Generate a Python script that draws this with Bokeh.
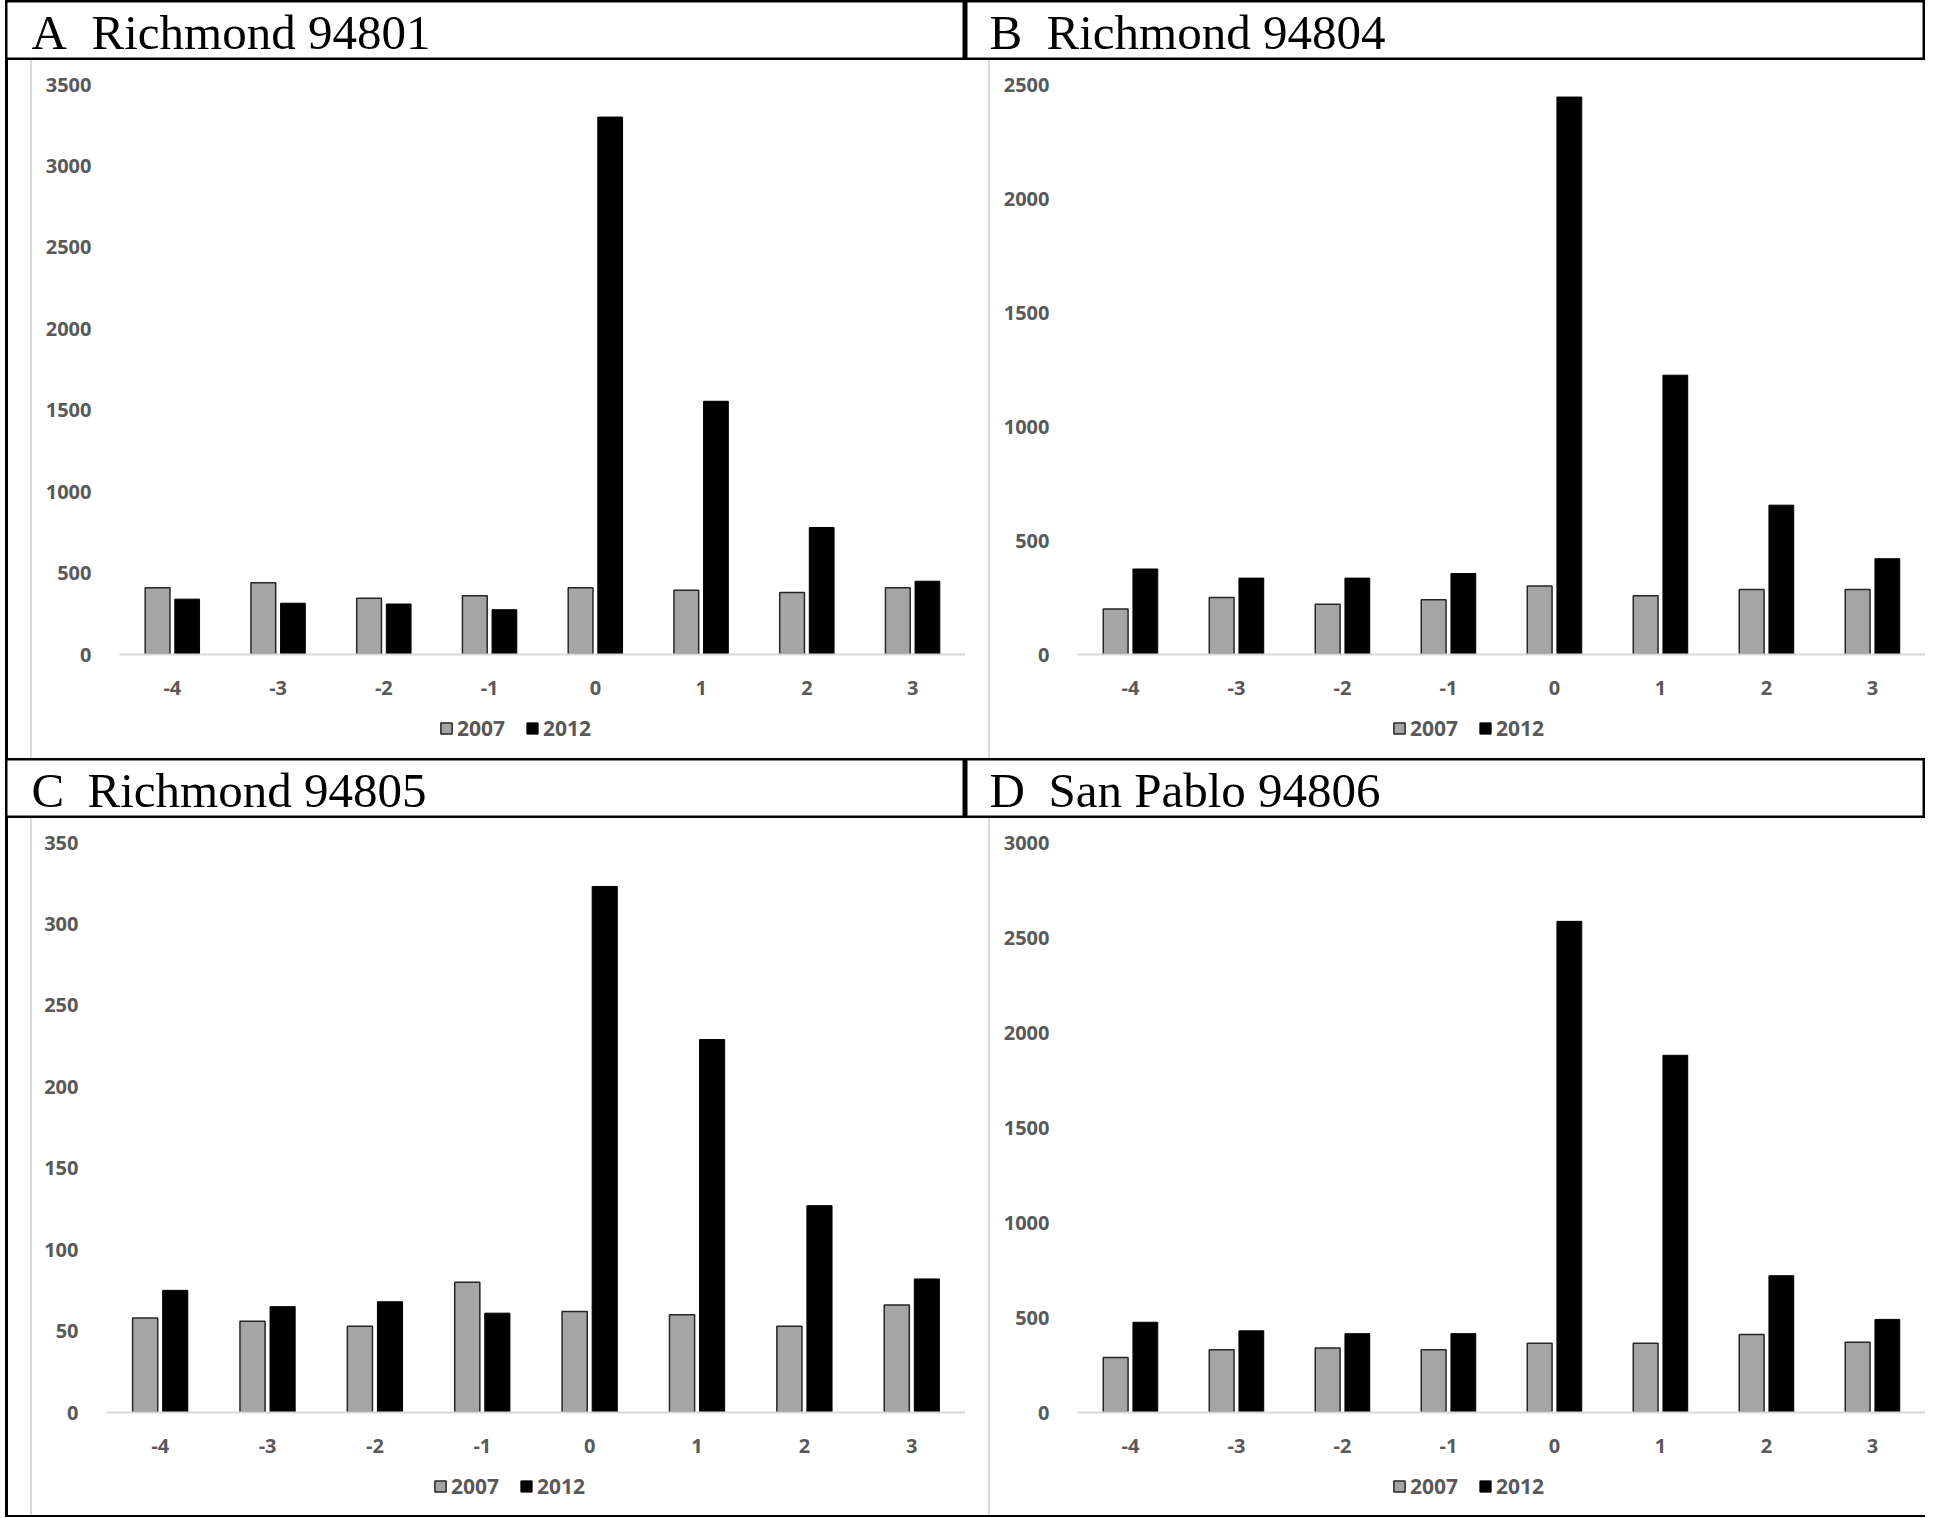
from bokeh.plotting import figure
from bokeh.models import (FactorRange, Range1d, FixedTicker, Legend, LegendItem,
                          Spacer, ColumnDataSource)
from bokeh.layouts import row, column
from bokeh.transform import dodge
from bokeh.core.properties import value
from bokeh.embed import file_html
from bokeh.resources import INLINE

# ---------------- data ----------------
categories = ["-4", "-3", "-2", "-1", "0", "1", "2", "3"]
series_names = ["2007", "2012"]

panel_letters = ["A", "B", "C", "D"]
panel_names = ["Richmond 94801", "Richmond 94804", "Richmond 94805", "San Pablo 94806"]

a_2007 = [410, 440, 345, 360, 410, 395, 380, 410]
a_2012 = [340, 315, 310, 275, 3300, 1555, 780, 450]

b_2007 = [200, 250, 220, 240, 300, 258, 285, 285]
b_2012 = [375, 335, 335, 355, 2445, 1225, 655, 420]

c_2007 = [58, 56, 53, 80, 62, 60, 53, 66]
c_2012 = [75, 65, 68, 61, 323, 229, 127, 82]

d_2007 = [290, 330, 340, 330, 365, 365, 410, 370]
d_2012 = [475, 430, 415, 415, 2585, 1880, 720, 490]

a_ticks = [0, 500, 1000, 1500, 2000, 2500, 3000, 3500]
b_ticks = [0, 500, 1000, 1500, 2000, 2500]
c_ticks = [0, 50, 100, 150, 200, 250, 300, 350]
d_ticks = [0, 500, 1000, 1500, 2000, 2500, 3000]

# ---------------- styles ----------------
GRAY = "#a5a5a5"
GRAY_EDGE = "#262626"
LABEL = "#595959"
AXIS = "#d9d9d9"
TICK_FONT = "Open Sans"
TITLE_FONT = "Liberation Serif"
BAR_W = 0.234
OFF = 0.14


def title_fig(letter, name, width, lx, nx):
    t = figure(width=width, height=60, x_range=Range1d(0, width), y_range=Range1d(0, 60),
               output_backend="svg", toolbar_location=None, min_border=0,
               x_axis_location=None, y_axis_location=None)
    t.grid.visible = False
    t.outline_line_color = "black"
    t.outline_line_width = 4
    for x, s in ((lx, letter), (nx, name)):
        t.text(x=[x], y=[28], text=[s], text_font=value(TITLE_FONT),
               text_font_size="49px", text_baseline="middle", text_color="black")
    return t


def add_bars(p, src):
    r1 = p.vbar(x=dodge("cat", -OFF, range=p.x_range), top="v07", width=BAR_W,
                source=src, fill_color=GRAY, line_color=GRAY_EDGE, line_width=1.5)
    r2 = p.vbar(x=dodge("cat", OFF, range=p.x_range), top="v12", width=BAR_W,
                source=src, fill_color="black", line_color="black", line_width=1)
    return r1, r2


def chart(src, ticks, width, height, left, top, bottom):
    p = figure(x_range=FactorRange(*categories, range_padding=0),
               y_range=Range1d(0, ticks[-1]),
               width=width, height=height, output_backend="svg", toolbar_location=None,
               min_border_left=left, min_border_right=0, min_border_top=top,
               min_border_bottom=bottom)
    p.outline_line_color = None
    p.xgrid.visible = False
    p.ygrid.visible = False
    add_bars(p, src)

    p.yaxis.ticker = FixedTicker(ticks=ticks)
    p.yaxis.axis_line_color = None
    p.yaxis.major_tick_line_color = None
    p.yaxis.minor_tick_line_color = None
    p.yaxis.major_label_standoff = 22

    p.xaxis.axis_line_color = AXIS
    p.xaxis.axis_line_width = 2
    p.xaxis.major_tick_line_color = None
    p.xaxis.minor_tick_line_color = None
    p.xaxis.major_label_standoff = 20

    for ax in (p.xaxis[0], p.yaxis[0]):
        ax.major_label_text_font = TICK_FONT
        ax.major_label_text_font_style = "bold"
        ax.major_label_text_font_size = "20px"
        ax.major_label_text_color = LABEL
    return p


def legend_fig(src, width, height, left, leg_x, leg_y):
    # holds the legend only; its bar renderers are hidden (the chart above draws the bars)
    lf = figure(width=width, height=height, x_range=FactorRange(*categories, range_padding=0),
                y_range=Range1d(0, 1), output_backend="svg", toolbar_location=None,
                min_border=0, min_border_left=left,
                x_axis_location=None, y_axis_location=None)
    lf.grid.visible = False
    lf.outline_line_color = None
    r1, r2 = add_bars(lf, src)
    r1.visible = False
    r2.visible = False
    legend = Legend(items=[LegendItem(label=series_names[0], renderers=[r1]),
                           LegendItem(label=series_names[1], renderers=[r2])],
                    orientation="horizontal", location=(leg_x, leg_y),
                    border_line_color=None, background_fill_alpha=0,
                    inactive_fill_alpha=0,
                    label_text_font=TICK_FONT, label_text_font_style="bold",
                    label_text_font_size="21px", label_text_color=LABEL,
                    glyph_width=14, glyph_height=14, spacing=20, margin=0, padding=0,
                    label_standoff=4)
    lf.add_layout(legend, "center")
    return lf


def bar_spacer(w, h, color):
    return Spacer(width=w, height=h, styles={"background-color": color})


def source(v07, v12):
    return ColumnDataSource(dict(cat=categories, v07=v07, v12=v12))


CH, LH1, LH2 = 642, 56, 55
H1, H2 = CH + LH1, CH + LH2

sA, sB = source(a_2007, a_2012), source(b_2007, b_2012)
sC, sD = source(c_2007, c_2012), source(d_2007, d_2012)

tA = title_fig(panel_letters[0], panel_names[0], 960, 26, 86)
tB = title_fig(panel_letters[1], panel_names[1], 960, 24, 81)
tC = title_fig(panel_letters[2], panel_names[2], 960, 26, 82)
tD = title_fig(panel_letters[3], panel_names[3], 960, 24, 83)

cA = chart(sA, a_ticks, 933, CH, 87, 24, 48)
cB = chart(sB, b_ticks, 935, CH, 87, 24, 48)
cC = chart(sC, c_ticks, 933, CH, 74, 24, 48)
cD = chart(sD, d_ticks, 935, CH, 87, 24, 48)

lA = legend_fig(sA, 933, LH1, 87, 320, 16)
lB = legend_fig(sB, 935, LH1, 87, 315, 16)
lC = legend_fig(sC, 933, LH2, 74, 327, 15)
lD = legend_fig(sD, 935, LH2, 87, 315, 15)

left_col = column(
    tA,
    row(bar_spacer(3, H1, "black"), Spacer(width=22, height=H1),
        bar_spacer(2, H1, AXIS), column(cA, lA)),
    tC,
    row(bar_spacer(3, H2, "black"), Spacer(width=22, height=H2),
        bar_spacer(2, H2, AXIS), column(cC, lC)),
)
right_col = column(
    tB,
    row(Spacer(width=23, height=H1), bar_spacer(2, H1, AXIS), column(cB, lB)),
    tD,
    row(Spacer(width=23, height=H2), bar_spacer(2, H2, AXIS), column(cD, lD)),
)
body = column(row(left_col, right_col), bar_spacer(1920, 2, "black"))
layout = row(Spacer(width=5, height=60 + H1 + 60 + H2 + 2), body)

with open("out.html", "w") as f:
    f.write(file_html(layout, INLINE))
